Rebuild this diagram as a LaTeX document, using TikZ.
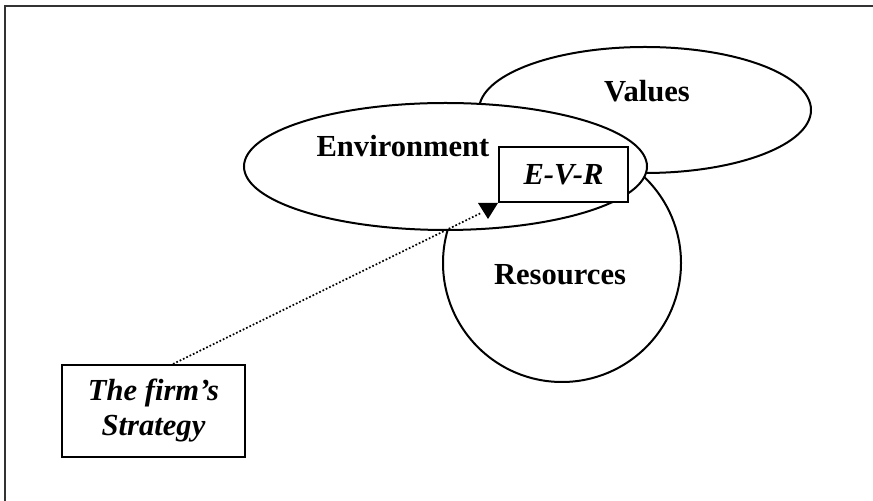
\documentclass[tikz,border=0pt]{standalone}
\usepackage{fontspec}
\setmainfont{Liberation Serif}
\usetikzlibrary{shapes.geometric}

\begin{document}
\begin{tikzpicture}[x=0.5pt,y=-0.5pt,line width=1pt]

      \useasboundingbox (0,0) rectangle (873,501);
      \draw[black!80] (5,501) -- (5,6) -- (873,6);

      \begin{scope}[every node/.style={ellipse,draw,fill=white,inner sep=0pt}]
        \node[minimum width=166pt,minimum height=63pt] (values) at (645,110) {};
        \node[circle,minimum size=119pt] (resources) at (562,263) {};
        \node[minimum width=201.5pt,minimum height=63.5pt] (environment) at (445.5,166.5) {};
      \end{scope}

      \begin{scope}[every node/.style={anchor=base,inner sep=0pt,font=\fontsize{15.3}{18}\selectfont\bfseries}]
        \node (valuestext) at (647,102) {Values};
        \node (resourcestext) at (560,285) {Resources};
        \node (environmenttext) at (403,157) {Environment};
      \end{scope}

      \begin{scope}[every node/.style={rectangle,draw,fill=white,inner sep=0pt,font=\fontsize{15.3}{17.5}\selectfont\bfseries\itshape}]
        \node[minimum width=64.5pt,minimum height=27.5pt] (evr) at (563.5,174.5) {E-V-R};
        \node[align=center,minimum width=91.5pt,minimum height=46pt] (strategy) at (153.5,411) {The firm’s\\Strategy};
      \end{scope}

      \coordinate (evrtip) at ([shift={(-17,10)}]evr.south west);
      \draw[densely dotted,line width=0.85pt] ([xshift=9.75pt]strategy.north) -- (evrtip);
      \fill (evr.south west) -- ++(-20,0) -- ++(10,16) -- cycle;

    \end{tikzpicture}
\end{document}
